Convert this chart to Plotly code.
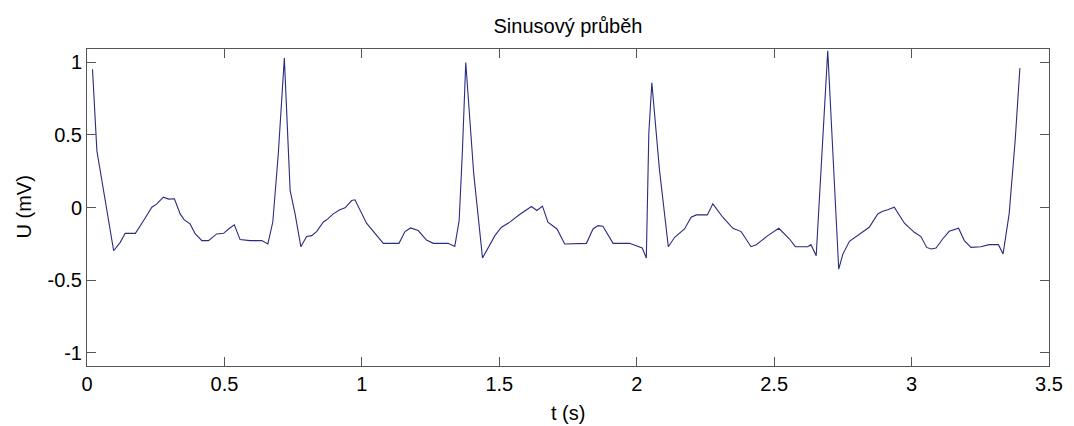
import plotly.graph_objects as go

# time (s)
t = [0.020, 0.036, 0.097, 0.121, 0.139, 0.176, 0.206, 0.236, 0.254, 0.278,
     0.297, 0.318, 0.339, 0.354, 0.375, 0.394, 0.418, 0.442, 0.472, 0.497,
     0.515, 0.536, 0.557, 0.593, 0.636, 0.658, 0.676, 0.696, 0.718, 0.739,
     0.757, 0.778, 0.799, 0.818, 0.836, 0.860, 0.875, 0.896, 0.920, 0.939,
     0.963, 0.975, 1.017, 1.048, 1.078, 1.135, 1.157, 1.177, 1.205, 1.235,
     1.260, 1.314, 1.338, 1.354, 1.366, 1.378, 1.393, 1.407, 1.439, 1.459,
     1.484, 1.508, 1.538, 1.574, 1.617, 1.637, 1.657, 1.677, 1.710, 1.738,
     1.817, 1.841, 1.859, 1.877, 1.914, 1.974, 1.999, 2.020, 2.035, 2.044,
     2.055, 2.083, 2.115, 2.138, 2.174, 2.198, 2.217, 2.257, 2.277, 2.313,
     2.350, 2.380, 2.416, 2.435, 2.477, 2.517, 2.556, 2.577, 2.622, 2.634,
     2.653, 2.695, 2.735, 2.750, 2.774, 2.804, 2.846, 2.877, 2.895, 2.913,
     2.937, 2.974, 3.010, 3.034, 3.055, 3.071, 3.089, 3.113, 3.137, 3.171,
     3.192, 3.216, 3.252, 3.282, 3.316, 3.333, 3.355, 3.377, 3.394]

# voltage (mV)
u = [0.953, 0.39, -0.298, -0.24, -0.178, -0.178, -0.09, 0.002, 0.025, 0.071,
     0.058, 0.06, -0.044, -0.085, -0.113, -0.182, -0.228, -0.228, -0.182, -0.178,
     -0.148, -0.12, -0.221, -0.228, -0.228, -0.251, -0.1, 0.37, 1.029, 0.118,
     -0.044, -0.27, -0.2, -0.194, -0.164, -0.1, -0.08, -0.044, -0.016, -0.002,
     0.048, 0.053, -0.108, -0.182, -0.247, -0.247, -0.166, -0.141, -0.159, -0.224,
     -0.247, -0.247, -0.268, -0.09, 0.394, 0.999, 0.579, 0.233, -0.348, -0.275,
     -0.194, -0.136, -0.101, -0.048, 0.007, -0.021, 0.009, -0.101, -0.148, -0.251,
     -0.247, -0.148, -0.125, -0.129, -0.247, -0.247, -0.263, -0.279, -0.348, 0.51,
     0.86, 0.256, -0.27, -0.205, -0.148, -0.067, -0.051, -0.051, 0.025, -0.067,
     -0.143, -0.166, -0.27, -0.256, -0.194, -0.143, -0.217, -0.27, -0.27, -0.256,
     -0.332, 1.08, -0.425, -0.321, -0.233, -0.194, -0.136, -0.044, -0.026, -0.016,
     0.002, -0.108, -0.171, -0.2, -0.275, -0.286, -0.279, -0.217, -0.164, -0.143,
     -0.228, -0.275, -0.27, -0.256, -0.256, -0.32, -0.044, 0.464, 0.96]

x_ticks = [0, 0.5, 1, 1.5, 2, 2.5, 3, 3.5]
x_tick_labels = ["0", "0.5", "1", "1.5", "2", "2.5", "3", "3.5"]
y_ticks = [-1, -0.5, 0, 0.5, 1]
y_tick_labels = ["-1", "-0.5", "0", "0.5", "1"]

FONT = "Liberation Sans, Arial, Helvetica, sans-serif"
FS = 20
W, H = 1074, 426
L, R, T, B = 87, 25, 49, 60
plot_h = H - T - B
plot_w = W - L - R

fig = go.Figure(
    go.Scatter(x=t, y=u, mode="lines",
               line=dict(color="#2b2b80", width=1.1), hoverinfo="skip")
)

fig.update_layout(
    width=W, height=H,
    margin=dict(l=L, r=R, t=T, b=B),
    paper_bgcolor="white", plot_bgcolor="white",
    showlegend=False,
    font=dict(family=FONT, size=FS, color="black"),
    title=dict(text="Sinusový průběh", x=0.5, xref="paper", xanchor="center",
               y=1 - 26 / H, yref="container", yanchor="middle",
               font=dict(family=FONT, size=FS, color="black")),
    annotations=[
        dict(text="t (s)", xref="paper", yref="paper", x=0.5,
             y=-(413 - (H - B)) / plot_h, xanchor="center", yanchor="middle",
             showarrow=False, font=dict(family=FONT, size=FS, color="black")),
        dict(text="U (mV)", xref="paper", yref="paper", x=(23 - L) / plot_w,
             y=0.5, xanchor="center", yanchor="middle", textangle=-90,
             showarrow=False, font=dict(family=FONT, size=FS, color="black")),
    ],
)

axis_common = dict(
    showline=True, linecolor="#555555", linewidth=1,
    mirror="ticks", ticks="inside", ticklen=9, tickwidth=1, tickcolor="#555555",
    showgrid=False, zeroline=False,
    tickfont=dict(family=FONT, size=FS, color="black"),
)

fig.update_xaxes(range=[0, 3.5], tickmode="array", tickvals=x_ticks, ticktext=x_tick_labels,
                 **axis_common)
fig.update_yaxes(range=[-1.092, 1.092], tickmode="array", tickvals=y_ticks, ticktext=y_tick_labels,
                 **axis_common)

fig.write_html("out.html")
